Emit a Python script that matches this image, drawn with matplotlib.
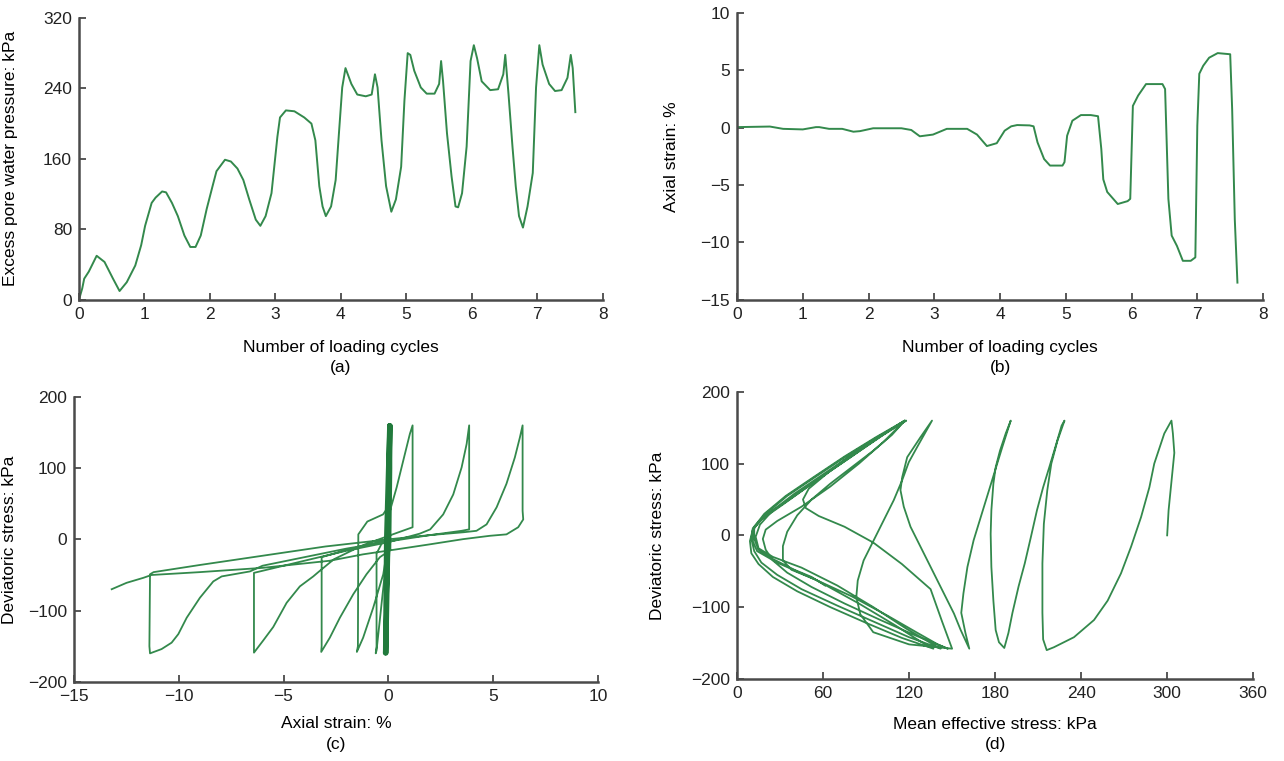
import matplotlib
matplotlib.use("Agg")
import matplotlib.pyplot as plt

plt.rcParams['font.family'] = ['Liberation Sans', 'DejaVu Sans']
plt.rcParams['axes.unicode_minus'] = True

line_color = "#33894c"
spine_color = "#4a4a4a"

# (a) excess pore water pressure vs loading cycles
a_cycles = [0, 0.05, 0.08, 0.15, 0.27, 0.39, 0.52, 0.62, 0.73, 0.86, 0.95, 1.01, 1.11, 1.17, 1.27, 1.33,
            1.42, 1.51, 1.61, 1.70, 1.78, 1.86, 1.95, 2.04, 2.10, 2.23, 2.32, 2.42, 2.51, 2.60, 2.70, 2.77,
            2.85, 2.94, 3.03, 3.07, 3.16, 3.29, 3.44, 3.55, 3.61, 3.67, 3.72, 3.77, 3.85, 3.92, 3.97, 4.02,
            4.07, 4.16, 4.25, 4.38, 4.47, 4.52, 4.56, 4.62, 4.69, 4.77, 4.84, 4.92, 4.97, 5.02, 5.06, 5.12,
            5.22, 5.31, 5.43, 5.50, 5.53, 5.56, 5.62, 5.69, 5.75, 5.79, 5.85, 5.92, 5.98, 6.03, 6.08, 6.15,
            6.28, 6.40, 6.48, 6.51, 6.56, 6.62, 6.67, 6.72, 6.78, 6.85, 6.93, 6.98, 7.03, 7.08, 7.18, 7.27,
            7.37, 7.46, 7.51, 7.54, 7.58]
a_pwp = [0, 13, 24, 32, 50, 43, 24, 10, 20, 39, 62, 84, 110, 116, 123, 122,
         110, 95, 73, 60, 60, 73, 103, 129, 146, 159, 157, 149, 136, 114, 91, 84,
         95, 121, 185, 207, 215, 214, 207, 200, 181, 129, 106, 95, 106, 136, 189, 241,
         263, 245, 233, 231, 233, 256, 241, 181, 129, 100, 114, 151, 226, 280, 278, 260,
         241, 234, 234, 245, 271, 248, 189, 140, 106, 105, 121, 174, 271, 289, 274, 248,
         238, 239, 256, 278, 233, 174, 129, 95, 82, 106, 144, 241, 289, 267, 245, 237,
         238, 252, 278, 263, 213]

# (b) axial strain vs loading cycles
b_cycles = [0, 0.5, 0.7, 1.0, 1.2, 1.25, 1.4, 1.6, 1.77, 1.87, 2.07, 2.5, 2.65, 2.78, 2.98, 3.19, 3.5,
            3.65, 3.8, 3.95, 4.07, 4.17, 4.26, 4.45, 4.51, 4.57, 4.67, 4.76, 4.95, 4.98, 5.02, 5.10,
            5.23, 5.38, 5.49, 5.54, 5.57, 5.63, 5.79, 5.94, 5.98, 6.02, 6.10, 6.22, 6.47, 6.51, 6.56,
            6.61, 6.69, 6.78, 6.90, 6.97, 7.00, 7.03, 7.09, 7.18, 7.31, 7.50, 7.53, 7.57, 7.61]
b_strain = [0.05, 0.1, -0.1, -0.15, 0.05, 0.05, -0.1, -0.1, -0.35, -0.3, -0.05, -0.05, -0.2, -0.75,
            -0.6, -0.1, -0.1, -0.6, -1.6, -1.35, -0.26, 0.12, 0.23, 0.2, 0.12, -1.28, -2.73, -3.3,
            -3.3, -3.0, -0.7, 0.61, 1.1, 1.1, 1.0, -1.86, -4.5, -5.6, -6.65, -6.4, -6.2, 1.9, 2.8,
            3.8, 3.8, 3.37, -6.2, -9.4, -10.3, -11.6, -11.6, -11.3, 0.17, 4.7, 5.4, 6.1, 6.5, 6.4,
            1.6, -8.0, -13.5]

# (c) deviatoric stress vs axial strain
c_strain = [0, 0.05, 0.05, 0.0, -0.1, -0.05, 0.1, 0.0, -0.15, -0.1, 0.05, 0.0, -0.1, -0.56, -0.6,
            -0.56, -0.56, -0.3, 0.0, 0.05, 0.05, 0.0, -0.24, -0.72, -1.2, -1.5,
            -1.45, -1.43, -1.0, -0.25, 0.1, 0.15,
            0.15, 0.1, -0.4, -1.04, -1.67, -2.31, -2.79, -3.2,
            -3.18, -3.18, -2.0, -1.0, 0.0, 0.05, 0.08, 0.4, 0.71, 1.03, 1.16,
            1.16, 1.16, 0.4, -1.2, -2.6, -3.3, -3.58, -4.22, -4.85, -5.49, -5.97, -6.41,
            -6.41, -6.41, -4.0, -2.0, 0.0, 1.5, 2.0, 2.62, 3.1, 3.5, 3.74, 3.86,
            3.86, 3.86, 3.5, 2.0, 0.0, -2.0, -4.0, -6.0, -6.6, -7.95, -8.35, -8.99, -9.62, -10.02,
            -10.34, -10.82, -11.37,
            -11.4, -11.37, -11.2, -9.0, -6.0, -3.0, 0.0, 2.0, 3.6, 4.21, 4.69, 5.17, 5.64, 6.04,
            6.28, 6.41,
            6.41, 6.41, 6.44, 6.2, 5.64, 4.85, 3.57, 1.98, 0.4, -1.2, -2.79, -6.0, -9.0, -11.3,
            -11.69, -12.49, -13.2]
c_dev = [0, 80, 160, 0, -160, 0, 160, 0, -160, 0, 160, 0, -30, -156, -160,
         -150, -20, -5, 5, 160, 100, -5, -49, -96, -138, -158,
         -150, 7, 25, 35, 50, 160,
         100, -15, -25, -49, -77, -110, -138, -158,
         -150, -25, -15, -8, 0, 20, 40, 73, 110, 148, 160,
         100, 17, 9, -8, -28, -45, -52, -66, -89, -123, -142, -159,
         -150, -47, -30, -16, -4, 8, 14, 35, 63, 101, 134, 160,
         100, 14, 12, 6, -3, -13, -25, -37, -45, -52, -59, -82, -110, -133,
         -145, -154, -160,
         -150, -49, -46, -36, -23, -10, 0, 6, 10, 12, 21, 45, 78, 115,
         143, 160,
         100, 40, 28, 17, 7, 5, 0.3, -7, -14, -21, -30, -40, -46, -50,
         -54, -61, -70]

# (d) deviatoric stress vs mean effective stress
d_p = [300, 301, 303, 305, 304, 303,
       298, 291, 287.6, 281.8, 274.8, 267.8, 258.5, 249, 235, 221, 216,
       213.5, 213, 213, 214, 216.4, 219.2, 223.5, 228.4,
       226.4, 222, 217.8, 213.5, 209.2, 205, 200.7, 196.4, 192.1, 189.3, 186.4,
       182.7, 180.4, 178.8, 177.4, 176.9, 177.4, 178.8, 180.4, 183.4, 187.4, 190.9,
       185, 180.7, 176.4, 170.7, 165, 160.7, 157.9, 156.4, 159.3, 162,
       156, 151.3, 144.3, 137.3, 128, 121, 116.3, 114, 115.2, 118.7, 128, 136,
       131.5, 125.6, 119.8, 115.2, 109.3, 102.3, 95.3, 88.3, 84.2, 83.2, 86, 95, 120, 150,
       143, 135, 115, 95, 75, 57, 48, 46, 50, 65, 85, 105, 117,
       108, 95, 80, 65, 52, 42, 35, 32, 32, 38, 55, 80, 105, 125, 140, 147,
       125, 100, 75, 52, 35, 25, 20, 18, 20, 28, 45, 65, 85, 102, 117,
       100, 80, 60, 40, 25, 16, 13, 15, 25, 45, 70, 95, 118, 135, 142,
       120, 95, 70, 45, 28, 17, 12, 10, 11, 18, 35, 58, 82, 102, 118,
       98, 76, 55, 35, 20, 12, 11, 14, 28, 55, 85, 110, 128, 137,
       115, 90, 65, 42, 25, 15, 10, 9, 11, 17, 32, 55, 80, 100, 117,
       97, 75, 54, 34, 19, 12, 12, 15, 25, 40, 52, 61.5]
d_q = [0, 35, 75, 115, 142, 160,
       142, 100, 67, 25.5, -16, -53, -91, -118, -142, -156, -160,
       -145, -108, -39, 16, 63, 100, 132, 160,
       153, 123, 95, 67, 35, -2, -39, -71, -108, -136, -157,
       -149, -132, -91, -44, 2, 35, 72, 95, 118, 142, 160,
       123, 95, 67, 30, -7, -44, -81, -108, -136, -158,
       -132, -109, -81, -53, -16, 12, 40, 63, 81, 109, 137, 160,
       144, 123, 102, 77, 49, 21, -7, -35, -63, -86, -110, -135, -152, -158,
       -120, -75, -40, -10, 12, 27, 38, 50, 65, 90, 120, 145, 160,
       140, 118, 95, 72, 50, 28, 5, -15, -35, -48, -62, -85, -112, -135, -152, -158,
       -140, -118, -95, -72, -52, -35, -20, -5, 8, 20, 40, 68, 100, 130, 160,
       138, 112, 85, 58, 35, 15, -2, -18, -30, -45, -70, -100, -130, -150, -158,
       -142, -120, -98, -75, -55, -38, -22, -5, 10, 25, 48, 80, 113, 140, 160,
       137, 110, 82, 55, 30, 10, -8, -22, -38, -62, -95, -125, -148, -158,
       -143, -122, -100, -78, -58, -40, -25, -8, 8, 22, 43, 76, 110, 138, 160,
       137, 110, 82, 55, 30, 12, -5, -20, -33, -48, -58, -70]

# the first cycles in (c) sit on top of each other near zero strain
n_early = 12

fig = plt.figure(figsize=(12.84, 7.61), dpi=100)
ax_a = fig.add_axes([0.0615, 0.606, 0.408, 0.3705])
ax_b = fig.add_axes([0.574, 0.606, 0.4097, 0.377])
ax_c = fig.add_axes([0.0576, 0.104, 0.408, 0.3745])
ax_d = fig.add_axes([0.574, 0.108, 0.402, 0.377])


def style(ax):
    for side in ("top", "right"):
        ax.spines[side].set_visible(False)
    for side in ("left", "bottom"):
        ax.spines[side].set_color(spine_color)
        ax.spines[side].set_linewidth(1.8)
    ax.tick_params(direction="in", length=5, width=1.3, color=spine_color,
                   labelsize=12.5, labelcolor="#222222", pad=5)


fs = 12.5
ls = 1.45

ax_a.plot(a_cycles, a_pwp, color=line_color, lw=1.4)
ax_a.set_xlim(0, 8)
ax_a.set_ylim(0, 320)
ax_a.set_xticks(range(0, 9))
ax_a.set_yticks(range(0, 321, 80))
ax_a.set_xlabel("Number of loading cycles\n(a)", fontsize=fs, labelpad=13, linespacing=ls)
ax_a.set_ylabel("Excess pore water pressure: kPa", fontsize=fs)
ax_a.yaxis.set_label_coords(-0.116, 0.5)

ax_b.plot(b_cycles, b_strain, color=line_color, lw=1.4)
ax_b.set_xlim(0, 8)
ax_b.set_ylim(-15, 10)
ax_b.set_xticks(range(0, 9))
ax_b.set_yticks(range(-15, 11, 5))
ax_b.set_xlabel("Number of loading cycles\n(b)", fontsize=fs, labelpad=13, linespacing=ls)
ax_b.set_ylabel("Axial strain: %", fontsize=fs)
ax_b.yaxis.set_label_coords(-0.110, 0.5)

ax_c.plot(c_strain, c_dev, color=line_color, lw=1.3)
ax_c.plot(c_strain[:n_early], c_dev[:n_early], color="#217a3c", lw=3.2)
ax_c.set_xlim(-15, 10)
ax_c.set_ylim(-200, 200)
ax_c.set_xticks(range(-15, 11, 5))
ax_c.set_yticks(range(-200, 201, 100))
ax_c.set_xlabel("Axial strain: %\n(c)", fontsize=fs, labelpad=9, linespacing=ls)
ax_c.set_ylabel("Deviatoric stress: kPa", fontsize=fs)
ax_c.yaxis.set_label_coords(-0.108, 0.5)

ax_d.plot(d_p, d_q, color=line_color, lw=1.3)
ax_d.set_xlim(0, 360)
ax_d.set_ylim(-200, 200)
ax_d.set_xticks(range(0, 361, 60))
ax_d.set_yticks(range(-200, 201, 100))
ax_d.set_xlabel("Mean effective stress: kPa\n(d)", fontsize=fs, labelpad=11.5, linespacing=ls)
ax_d.set_ylabel("Deviatoric stress: kPa", fontsize=fs)
ax_d.yaxis.set_label_coords(-0.139, 0.5)

for ax in (ax_a, ax_b, ax_c, ax_d):
    style(ax)

fig.savefig("out.png", dpi=100)
